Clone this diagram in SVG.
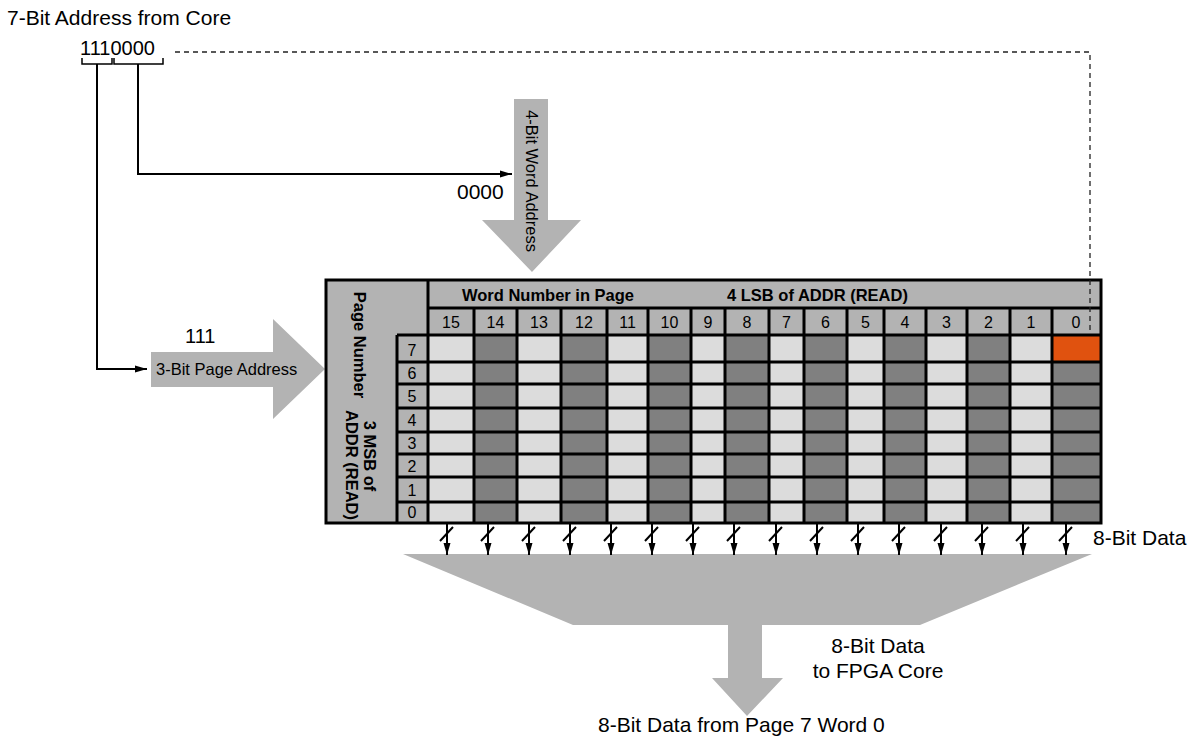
<svg xmlns="http://www.w3.org/2000/svg" width="1192" height="742" viewBox="0 0 1192 742">
<style>
.t{font-family:"Liberation Sans",Arial,sans-serif;fill:#000}
.b{font-weight:bold}
.g{fill:#b3b3b3}
.lt{fill:#dcdcdc}
.dk{fill:#808080}
.or{fill:#e0520f}
.ln{stroke:#000;stroke-width:3;fill:none}
.wire{stroke:#000;stroke-width:2;fill:none}
.thin{stroke:#000;stroke-width:1.5;fill:none}
.dash{stroke:#222;stroke-width:1.3;fill:none;stroke-dasharray:5 4}
.n{font-size:16px}
</style>
<defs>
<marker id="ah" viewBox="0 0 12 8" refX="12" refY="4" markerWidth="12" markerHeight="8" markerUnits="userSpaceOnUse" orient="auto"><path d="M0,0.5 L12,4 L0,7.5z" fill="#000"/></marker>
</defs>

<g id="title">
<text class="t" x="7" y="25" font-size="21">7-Bit Address from Core</text>
<text class="t" x="80" y="55" font-size="20">1110000</text>
</g>

<g id="page-arrow">
<polygon class="g" points="151,352 273,352 273,319 325,369 273,419 273,387 151,387"/>
<text class="t" x="156" y="375" font-size="16.5">3-Bit Page Address</text>
<text class="t" x="185" y="343" font-size="20">111</text>
</g>

<g id="word-arrow">
<polygon class="g" points="514,99 548,99 548,220 581,220 532,272 482,220 514,220"/>
<text class="t" transform="translate(526,181) rotate(90)" text-anchor="middle" font-size="16.5">4-Bit Word Address</text>
<text class="t" x="457" y="199" font-size="21">0000</text>
</g>

<g id="output-arrow">
<polygon class="g" points="403,554 1092,554 920,625 762,625 762,678 783,678 747,716 712,678 728,678 728,625 573,625"/>
<text class="t" x="878" y="653" font-size="21" text-anchor="middle">8-Bit Data</text>
<text class="t" x="878" y="678" font-size="21" text-anchor="middle">to FPGA Core</text>
<text class="t" x="598" y="732" font-size="21">8-Bit Data from Page 7 Word 0</text>
</g>

<g id="memory-grid">
<rect class="g" x="326" y="280" width="775" height="243"/>
<!-- cell columns -->
<rect class="lt" x="428" y="335" width="46" height="188"/>
<rect class="dk" x="474" y="335" width="43" height="188"/>
<rect class="lt" x="517" y="335" width="44" height="188"/>
<rect class="dk" x="561" y="335" width="46" height="188"/>
<rect class="lt" x="607" y="335" width="41" height="188"/>
<rect class="dk" x="648" y="335" width="43" height="188"/>
<rect class="lt" x="691" y="335" width="34" height="188"/>
<rect class="dk" x="725" y="335" width="44" height="188"/>
<rect class="lt" x="769" y="335" width="35" height="188"/>
<rect class="dk" x="804" y="335" width="43" height="188"/>
<rect class="lt" x="847" y="335" width="37" height="188"/>
<rect class="dk" x="884" y="335" width="42" height="188"/>
<rect class="lt" x="926" y="335" width="41" height="188"/>
<rect class="dk" x="967" y="335" width="43" height="188"/>
<rect class="lt" x="1010" y="335" width="42" height="188"/>
<rect class="dk" x="1052" y="335" width="49" height="188"/>
<rect class="or" x="1052" y="335" width="49" height="27"/>
<!-- grid lines -->
<path class="ln" d="M397,362H1101M397,384H1101M397,408H1101M397,432H1101M397,454H1101M397,477H1101M397,502H1101"/>
<path class="ln" d="M474,308V523M517,308V523M561,308V523M607,308V523M648,308V523M691,308V523M725,308V523M769,308V523M804,308V523M847,308V523M884,308V523M926,308V523M967,308V523M1010,308V523M1052,308V523"/>
<path class="ln" d="M428,308H1101M397,335H1101M428,280V523M397,335V523"/>
<rect class="ln" x="326" y="280" width="775" height="243"/>
<!-- headers -->
<text class="t b" x="462" y="301" font-size="16.5">Word Number in Page</text>
<text class="t b" x="727" y="301" font-size="16.5">4 LSB of ADDR (READ)</text>
<g class="t n" text-anchor="middle">
<text x="451" y="328">15</text><text x="495.5" y="328">14</text><text x="539" y="328">13</text><text x="584" y="328">12</text>
<text x="627.5" y="328">11</text><text x="669.5" y="328">10</text><text x="708" y="328">9</text><text x="747" y="328">8</text>
<text x="786.5" y="328">7</text><text x="825.5" y="328">6</text><text x="865.5" y="328">5</text><text x="905" y="328">4</text>
<text x="946.5" y="328">3</text><text x="988.5" y="328">2</text><text x="1031" y="328">1</text><text x="1076" y="328">0</text>
<text x="412" y="356">7</text><text x="412" y="379">6</text><text x="412" y="402">5</text><text x="412" y="426">4</text>
<text x="412" y="449">3</text><text x="412" y="472">2</text><text x="412" y="496">1</text><text x="412" y="518">0</text>
</g>
<text class="t b" transform="translate(354,345) rotate(90)" text-anchor="middle" font-size="16.5">Page Number</text>
<text class="t b" transform="translate(364,456) rotate(90)" text-anchor="middle" font-size="16.5">3 MSB of</text>
<text class="t b" transform="translate(346,465) rotate(90)" text-anchor="middle" font-size="16.5">ADDR (READ)</text>
</g>

<g id="bus-label">
<text class="t" x="1093" y="545" font-size="21">8-Bit Data</text>
</g>

<g id="connectors">
<path class="thin" d="M82,58V64H112V58M114,58V64H163V58"/>
<path class="wire" d="M97,64V369H147" marker-end="url(#ah)"/>
<path class="wire" d="M138,64V174H512" marker-end="url(#ah)"/>
<path class="dash" d="M175,52H1090V332"/>
<g class="wire">
<path d="M447,523V555M488,523V555M529,523V555M570,523V555M611,523V555M652,523V555M693,523V555M734,523V555M776,523V555M817,523V555M858,523V555M899,523V555M941,523V555M982,523V555M1023,523V555M1066,523V555"/>
<path d="M440,541L453,527M481,541L494,527M522,541L535,527M563,541L576,527M604,541L617,527M645,541L658,527M686,541L699,527M727,541L740,527M769,541L782,527M810,541L823,527M851,541L864,527M892,541L905,527M934,541L947,527M975,541L988,527M1016,541L1029,527M1059,541L1072,527"/>
</g>
<g fill="#000">
<path d="M443.5,543H450.5L447,555z"/><path d="M484.5,543H491.5L488,555z"/><path d="M525.5,543H532.5L529,555z"/><path d="M566.5,543H573.5L570,555z"/>
<path d="M607.5,543H614.5L611,555z"/><path d="M648.5,543H655.5L652,555z"/><path d="M689.5,543H696.5L693,555z"/><path d="M730.5,543H737.5L734,555z"/>
<path d="M772.5,543H779.5L776,555z"/><path d="M813.5,543H820.5L817,555z"/><path d="M854.5,543H861.5L858,555z"/><path d="M895.5,543H902.5L899,555z"/>
<path d="M937.5,543H944.5L941,555z"/><path d="M978.5,543H985.5L982,555z"/><path d="M1019.5,543H1026.5L1023,555z"/><path d="M1062.5,543H1069.5L1066,555z"/>
</g>
</g>
</svg>
